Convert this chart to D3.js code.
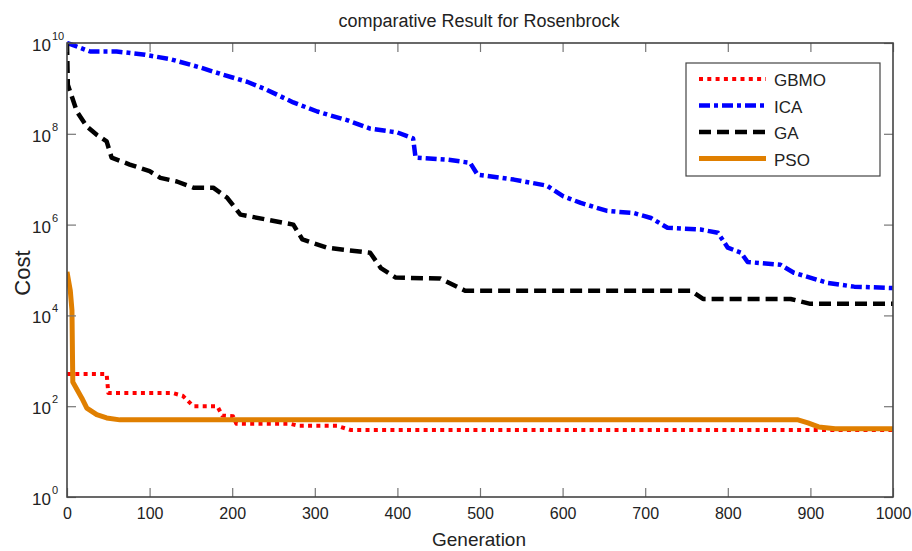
<!DOCTYPE html>
<meta charset="utf-8">
<style>
body { margin: 0; background: #fff; }
text { font-family: "Liberation Sans", Arial, sans-serif; fill: #222; }
</style>
<body>
<div id="chart"></div>
<script src="https://cdn.jsdelivr.net/npm/d3@7/dist/d3.min.js"></script>
<script>

// Data (generation, best cost)
var gbmoGen  = [0, 48, 50, 128, 140, 153, 182, 188, 201, 205, 270, 280, 327, 343, 1000];
var gbmoCost = [510, 510, 195, 195, 170, 100, 100, 62, 60, 41, 41, 37, 37, 30, 30];

var icaGen  = [0, 5, 28, 60, 92, 125, 161, 189, 218, 242, 274, 303, 327, 339, 367, 400, 419, 422,
               460, 488, 497, 541, 581, 601, 622, 654, 686, 707, 727, 767, 788, 800, 816, 824,
               864, 880, 921, 953, 1000];
var icaCost = [1e10, 9.3e9, 6.5e9, 6.5e9, 5.6e9, 4.4e9, 2.9e9, 2.0e9, 1.4e9, 9.3e8, 4.9e8, 3.1e8,
               2.3e8, 2.0e8, 1.3e8, 1.07e8, 7.9e7, 3.0e7, 2.7e7, 2.3e7, 1.26e7, 9.8e6, 7.2e6,
               4.2e6, 3.0e6, 2.0e6, 1.8e6, 1.4e6, 8.5e5, 7.8e5, 6.6e5, 3.1e5, 2.4e5, 1.5e5,
               1.3e5, 8.7e4, 5.2e4, 4.3e4, 4.0e4];

var gaGen  = [0, 1, 12, 24, 36, 48, 54, 76, 100, 113, 133, 153, 177, 194, 210, 274, 285, 315, 335,
              367, 380, 398, 452, 482, 755, 770, 876, 900, 1000];
var gaCost = [1e10, 1.2e9, 3.1e8, 1.45e8, 9.5e7, 6.8e7, 3.0e7, 2.1e7, 1.5e7, 1.07e7, 8.9e6, 6.5e6,
              6.5e6, 3.9e6, 1.66e6, 1.0e6, 4.7e5, 3.1e5, 2.8e5, 2.4e5, 1.1e5, 6.8e4, 6.5e4,
              3.5e4, 3.5e4, 2.3e4, 2.3e4, 1.8e4, 1.8e4];

var psoGen  = [0, 4, 6, 7, 18, 24, 36, 48, 64, 885, 897, 910, 930, 1000];
var psoCost = [9.1e4, 3.5e4, 1.3e4, 3.4e2, 1.5e2, 91, 65, 55, 50, 50, 43, 35, 32, 32];

var seriesNames = ["GBMO", "ICA", "GA", "PSO"];
var xTicks = [0, 100, 200, 300, 400, 500, 600, 700, 800, 900, 1000];
var yExps  = [0, 2, 4, 6, 8, 10];

var width = 912, height = 551;
var margin = {top: 43, right: 19, bottom: 54, left: 67};

var svg = d3.select("#chart").append("svg")
    .attr("width", width).attr("height", height);

var x = d3.scaleLinear().domain([0, 1000]).range([margin.left, width - margin.right]);
var y = d3.scaleLog().domain([1, 1e10]).range([height - margin.bottom, margin.top]);

var styles = [
  {color: "#ff0000", width: 4,   dash: "4,4.3"},
  {color: "#0000ff", width: 4.5, dash: "11,4,4,4"},
  {color: "#000000", width: 4.5, dash: "12,6"},
  {color: "#e07f00", width: 5,   dash: null}
];

var series = [
  {gen: gbmoGen, cost: gbmoCost},
  {gen: icaGen, cost: icaCost},
  {gen: gaGen, cost: gaCost},
  {gen: psoGen, cost: psoCost}
];

// clip to plot area
svg.append("clipPath").attr("id", "clip")
  .append("rect")
  .attr("x", margin.left).attr("y", margin.top - 2)
  .attr("width", width - margin.left - margin.right)
  .attr("height", height - margin.top - margin.bottom + 2);

var line = d3.line()
    .x(function(d) { return x(d[0]); })
    .y(function(d) { return y(d[1]); });

var linesG = svg.append("g").attr("clip-path", "url(#clip)");
series.forEach(function(s, i) {
  var pts = s.gen.map(function(g, j) { return [g, s.cost[j]]; });
  linesG.append("path")
    .attr("d", line(pts))
    .attr("fill", "none")
    .attr("stroke", styles[i].color)
    .attr("stroke-width", styles[i].width)
    .attr("stroke-dasharray", styles[i].dash)
    .attr("stroke-linejoin", "round");
});

// axes, ticks inward on all four sides
var tickLen = 9;
var yTickVals = yExps.map(function(e) { return Math.pow(10, e); });

var xAxisB = svg.append("g")
    .attr("transform", "translate(0," + (height - margin.bottom) + ")")
    .call(d3.axisBottom(x).tickValues(xTicks).tickSize(-tickLen).tickPadding(11)
            .tickFormat(d3.format("d")));
var xAxisT = svg.append("g")
    .attr("transform", "translate(0," + margin.top + ")")
    .call(d3.axisTop(x).tickValues(xTicks).tickSize(-tickLen).tickFormat(""));
var yAxisL = svg.append("g")
    .attr("transform", "translate(" + margin.left + ",0)")
    .call(d3.axisLeft(y).tickValues(yTickVals).tickSize(-tickLen).tickFormat(""));
var yAxisR = svg.append("g")
    .attr("transform", "translate(" + (width - margin.right) + ",0)")
    .call(d3.axisRight(y).tickValues(yTickVals).tickSize(-tickLen).tickFormat(""));

[xAxisB, xAxisT, yAxisL, yAxisR].forEach(function(a) {
  a.select(".domain").remove();
  a.selectAll(".tick line").attr("stroke", "#777").attr("stroke-width", 1.2);
});
xAxisB.selectAll(".tick text")
    .attr("font-family", "Liberation Sans, Arial, sans-serif")
    .attr("font-size", 16)
    .attr("fill", "#222");

// y tick labels as 10 with superscript exponent
yExps.forEach(function(e) {
  var ty = y(Math.pow(10, e));
  svg.append("text")
    .attr("x", margin.left - 16).attr("y", ty + 8)
    .attr("text-anchor", "end")
    .attr("font-size", 17)
    .text("10");
  svg.append("text")
    .attr("x", margin.left - 15).attr("y", ty - 3)
    .attr("font-size", 11)
    .text(e);
});

// frame
svg.append("rect")
  .attr("x", margin.left).attr("y", margin.top)
  .attr("width", width - margin.left - margin.right)
  .attr("height", height - margin.top - margin.bottom)
  .attr("fill", "none")
  .attr("stroke", "#444")
  .attr("stroke-width", 1.6);

// title and axis labels
svg.append("text")
  .attr("x", 479).attr("y", 27)
  .attr("text-anchor", "middle")
  .attr("font-size", 18)
  .text("comparative Result for Rosenbrock");

svg.append("text")
  .attr("x", 479).attr("y", 546)
  .attr("text-anchor", "middle")
  .attr("font-size", 19)
  .text("Generation");

svg.append("text")
  .attr("transform", "translate(30,273) rotate(-90)")
  .attr("text-anchor", "middle")
  .attr("font-size", 22)
  .text("Cost");

// legend
var legendG = svg.append("g");
legendG.append("rect")
  .attr("x", 686).attr("y", 63)
  .attr("width", 194).attr("height", 113)
  .attr("fill", "#fff")
  .attr("stroke", "#444")
  .attr("stroke-width", 1.2);

seriesNames.forEach(function(name, i) {
  var ly = 79 + i * 26.5;
  legendG.append("line")
    .attr("x1", 699).attr("x2", 766)
    .attr("y1", ly).attr("y2", ly)
    .attr("stroke", styles[i].color)
    .attr("stroke-width", styles[i].width)
    .attr("stroke-dasharray", styles[i].dash);
  legendG.append("text")
    .attr("x", 774).attr("y", ly + 7)
    .attr("font-size", 17)
    .text(name);
});

</script>
